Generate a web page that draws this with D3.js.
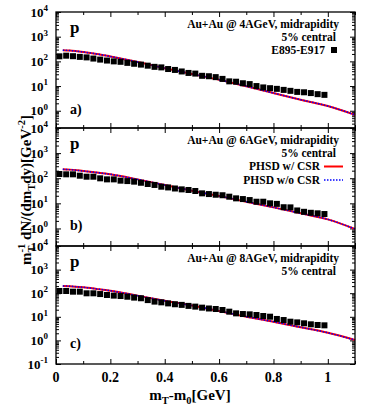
<!DOCTYPE html>
<html>
<head>
<meta charset="utf-8">
<script src="https://cdn.jsdelivr.net/npm/d3@7/dist/d3.min.js"></script>
<style>
body { margin: 0; background: #fff; }
svg text { font-family: "Liberation Serif", "Times New Roman", serif; font-weight: bold; fill: #000; }
</style>
</head>
<body>
<div id="chart"></div>
<script>
// E895-E917 data points (mT-m0 in GeV)
var dataX = [0.0125, 0.0375, 0.0625, 0.0875, 0.1125, 0.1375, 0.1625, 0.1875, 0.2125, 0.2375,
             0.2625, 0.2875, 0.3125, 0.3375, 0.3625, 0.3875, 0.4125, 0.4375, 0.4625, 0.4875,
             0.5125, 0.5375, 0.5625, 0.5875, 0.6125, 0.6375, 0.6625, 0.6875, 0.7125, 0.7375,
             0.7625, 0.7875, 0.8125, 0.8375, 0.8625, 0.8875, 0.9125, 0.9375, 0.9625, 0.9875];
var e895_4 = [160, 170, 162, 152, 145, 130, 118, 108, 100, 96,
              87, 80, 74, 67, 60, 57, 49, 45, 39, 34,
              32, 26, 25, 23, 19.5, 15.5, 15, 13, 12, 10,
              8.8, 8.2, 7.7, 7, 6.4, 5.8, 5.6, 5.2, 4.7, 4.4];
var e895_6 = [147, 143, 143, 126, 115, 115, 99, 90, 90, 80,
              77, 73, 66, 59, 54, 46, 43, 39, 36, 34,
              31, 25, 23.4, 22, 21, 18.4, 15.8, 14.8, 13.5, 11.6,
              11.6, 10, 9.5, 7, 6.9, 5.2, 4.6, 4.2, 4.0, 3.75];
var e895_8 = [124, 124, 116, 116, 99, 99, 92, 84, 79, 76,
              71, 65, 61, 51, 44, 41, 37, 34, 32, 29,
              27, 24.4, 22.5, 21.4, 19.4, 16.5, 14, 13.1, 12.7, 11.9,
              10.8, 10.1, 8.1, 7.3, 6.2, 5.8, 5.3, 4.8, 4.5, 4.35];

// PHSD curves
var curveX = [0.025, 0.05, 0.1, 0.15, 0.2, 0.3, 0.4, 0.5, 0.6, 0.7, 0.8, 0.9, 1.0, 1.1];
var csr4   = [285, 275, 240, 200, 158, 95, 53, 31, 18, 9.8, 5.2, 2.8, 1.55, 0.68];
var nocsr4 = [285, 275, 240, 200, 158, 95, 53, 31, 18, 9.8, 5.2, 2.8, 1.55, 0.68];
var csr6   = [226, 220, 194, 168, 143, 90, 54, 32, 19.5, 11.6, 6.9, 4.0, 2.3, 0.95];
var nocsr6 = [226, 220, 194, 168, 143, 90, 54, 32, 19.5, 11.6, 6.9, 4.0, 2.3, 0.95];
var csr8   = [202, 198, 178, 152, 128, 79, 48, 30, 17.6, 10.1, 6.2, 3.6, 2.1, 1.04];
var nocsr8 = [202, 198, 178, 152, 128, 79, 48, 30, 17.6, 10.1, 6.2, 3.6, 2.1, 1.04];

var energies = ["4AGeV", "6AGeV", "8AGeV"];
var panelTags = ["a)", "b)", "c)"];
var yMins = [0.2, 0.2, 0.1];

var width = 374, height = 410;
var left = 56, right = 355;
var tops = [12, 128, 246], bottoms = [128, 246, 364];

var svg = d3.select("#chart").append("svg")
    .attr("width", width)
    .attr("height", height);

var x = d3.scaleLinear().domain([0, 1.1]).range([left, right]);
var xMajor = x.ticks(5);
var xMinor = x.ticks(11).filter(function(v){ return xMajor.indexOf(v) < 0; });

var panels = [
    {data: e895_4, csr: csr4, nocsr: nocsr4},
    {data: e895_6, csr: csr6, nocsr: nocsr6},
    {data: e895_8, csr: csr8, nocsr: nocsr8}
];

panels.forEach(function(p, i){
    var top = tops[i], bottom = bottoms[i];
    var y = d3.scaleLog().domain([yMins[i], 1e4]).range([bottom, top]);
    var g = svg.append("g");

    var yAll = y.ticks();
    var yMajor = yAll.filter(function(v){ return Math.abs(Math.log10(v) - Math.round(Math.log10(v))) < 1e-9; });
    var yMinor = yAll.filter(function(v){ return yMajor.indexOf(v) < 0; });

    // ticks, gnuplot style (inward, mirrored)
    function addAxis(axis, tx, ty){
        var a = g.append("g").attr("transform", "translate(" + tx + "," + ty + ")").call(axis);
        a.select(".domain").remove();
        a.selectAll("line").attr("stroke", "#000").attr("stroke-width", 1);
        a.selectAll("text").remove();
    }
    addAxis(d3.axisBottom(x).tickValues(xMajor).tickSize(-5).tickFormat(""), 0, bottom);
    addAxis(d3.axisBottom(x).tickValues(xMinor).tickSize(-3).tickFormat(""), 0, bottom);
    addAxis(d3.axisTop(x).tickValues(xMajor).tickSize(-5).tickFormat(""), 0, top);
    addAxis(d3.axisTop(x).tickValues(xMinor).tickSize(-3).tickFormat(""), 0, top);
    addAxis(d3.axisLeft(y).tickValues(yMajor).tickSize(-5).tickFormat(""), left, 0);
    addAxis(d3.axisLeft(y).tickValues(yMinor).tickSize(-3).tickFormat(""), left, 0);
    addAxis(d3.axisRight(y).tickValues(yMajor).tickSize(-5).tickFormat(""), right, 0);
    addAxis(d3.axisRight(y).tickValues(yMinor).tickSize(-3).tickFormat(""), right, 0);

    // y tick labels 10^n
    yMajor.forEach(function(v){
        var t = g.append("text")
            .attr("x", 48)
            .attr("y", y(v) + 4.5)
            .attr("text-anchor", "end")
            .style("font-size", "13px");
        t.append("tspan").text("10");
        t.append("tspan").attr("dy", -5.5).style("font-size", "9px").text(Math.round(Math.log10(v)));
    });

    // PHSD curves
    var line = d3.line()
        .x(function(d){ return x(d[0]); })
        .y(function(d){ return y(d[1]); })
        .curve(d3.curveMonotoneX);
    g.append("path")
        .datum(curveX.map(function(v, k){ return [v, p.csr[k]]; }))
        .attr("d", line)
        .attr("fill", "none")
        .attr("stroke", "#ff0000")
        .attr("stroke-width", 2);
    g.append("path")
        .datum(curveX.map(function(v, k){ return [v, p.nocsr[k]]; }))
        .attr("d", line)
        .attr("fill", "none")
        .attr("stroke", "#0000ff")
        .attr("stroke-width", 1.5)
        .attr("stroke-dasharray", "1.5,1.5");

    // data squares
    g.selectAll("rect.pt")
        .data(dataX.map(function(v, k){ return [v, p.data[k]]; }))
        .enter().append("rect")
        .attr("class", "pt")
        .attr("x", function(d){ return x(d[0]) - 3; })
        .attr("y", function(d){ return y(d[1]) - 3; })
        .attr("width", 6)
        .attr("height", 6)
        .attr("fill", "#000");

    // frame
    g.append("rect")
        .attr("x", left).attr("y", top)
        .attr("width", right - left).attr("height", bottom - top)
        .attr("fill", "none").attr("stroke", "#000").attr("stroke-width", 1.3);

    // texts
    g.append("text").attr("x", 70).attr("y", top + 21).style("font-size", "17px").text("p");
    g.append("text").attr("x", 70).attr("y", top + 102).style("font-size", "14px").text(panelTags[i]);
    g.append("text").attr("x", 339).attr("y", top + 16).attr("text-anchor", "end")
        .style("font-size", "11.5px").text("Au+Au @ " + energies[i] + ", midrapidity");
    g.append("text").attr("x", 336).attr("y", top + 28.5).attr("text-anchor", "end")
        .style("font-size", "11.5px").text("5% central");
});

// legend: data (panel a)
svg.append("text").attr("x", 325).attr("y", tops[0] + 41.5).attr("text-anchor", "end")
    .style("font-size", "11.5px").text("E895-E917");
svg.append("rect").attr("x", 331).attr("y", tops[0] + 35).attr("width", 6).attr("height", 6).attr("fill", "#000");

// legend: PHSD (panel b)
svg.append("text").attr("x", 320).attr("y", tops[1] + 42).attr("text-anchor", "end")
    .style("font-size", "11.5px").text("PHSD w/ CSR");
svg.append("line").attr("x1", 324).attr("x2", 343).attr("y1", tops[1] + 38.5).attr("y2", tops[1] + 38.5)
    .attr("stroke", "#ff0000").attr("stroke-width", 2);
svg.append("text").attr("x", 320).attr("y", tops[1] + 55.5).attr("text-anchor", "end")
    .style("font-size", "11.5px").text("PHSD w/o CSR");
svg.append("line").attr("x1", 324).attr("x2", 343).attr("y1", tops[1] + 52).attr("y2", tops[1] + 52)
    .attr("stroke", "#0000ff").attr("stroke-width", 1.5).attr("stroke-dasharray", "1.5,1.5");

// x tick labels on bottom panel
var fmt = d3.format("~g");
xMajor.forEach(function(v){
    svg.append("text").attr("x", x(v)).attr("y", 381.5).attr("text-anchor", "middle")
        .style("font-size", "14px").text(fmt(v));
});

// x axis title
var xt = svg.append("text").attr("x", 190).attr("y", 400).attr("text-anchor", "middle").style("font-size", "15px");
xt.append("tspan").text("m");
xt.append("tspan").attr("dy", 4).style("font-size", "10.5px").text("T");
xt.append("tspan").attr("dy", -4).text("-m");
xt.append("tspan").attr("dy", 4).style("font-size", "10.5px").text("0");
xt.append("tspan").attr("dy", -4).text("[GeV]");

// y axis title
var yt = svg.append("text").attr("transform", "translate(31,190) rotate(-90)")
    .attr("text-anchor", "middle").style("font-size", "15px");
yt.append("tspan").text("m");
yt.append("tspan").attr("dy", 4).style("font-size", "10.5px").text("T");
yt.append("tspan").attr("dy", -10).attr("dx", -6).style("font-size", "10.5px").text("-1");
yt.append("tspan").attr("dy", 6).text(" dN/(dm");
yt.append("tspan").attr("dy", 4).style("font-size", "10.5px").text("T");
yt.append("tspan").attr("dy", -4).text("dy)[GeV");
yt.append("tspan").attr("dy", -6).style("font-size", "10.5px").text("-2");
yt.append("tspan").attr("dy", 6).text("]");
</script>
</body>
</html>
